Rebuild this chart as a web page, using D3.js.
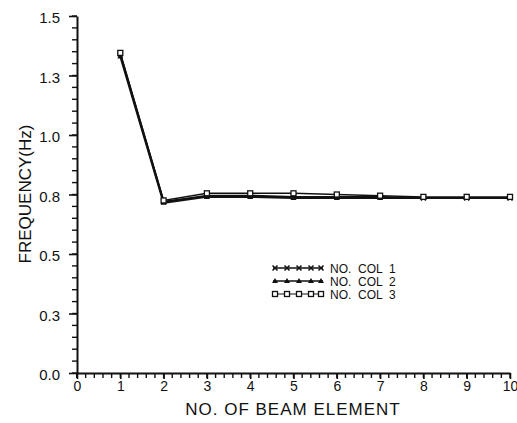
<!DOCTYPE html>
<html>
<head>
<meta charset="utf-8">
<script src="https://cdn.jsdelivr.net/npm/d3@7"></script>
<style>
  body { margin: 0; background: #fff; }
  text { font-family: "Liberation Sans", Arial, sans-serif; fill: #111; }
</style>
</head>
<body>
<div class="chart"></div>
<script>
// data
var elements = [1, 2, 3, 4, 5, 6, 7, 8, 9, 10];
var col1 = [1.34, 0.72, 0.745, 0.745, 0.74, 0.74, 0.74, 0.735, 0.735, 0.735];
var col2 = [1.33, 0.715, 0.74, 0.74, 0.735, 0.735, 0.735, 0.735, 0.735, 0.735];
var col3 = [1.345, 0.725, 0.755, 0.755, 0.755, 0.75, 0.745, 0.74, 0.74, 0.74];
var seriesNames = ["NO.  COL  1", "NO.  COL  2", "NO.  COL  3"];
var yTicks = [0, 0.25, 0.5, 0.75, 1.0, 1.25, 1.5];
var yTickLabels = ["0.0", "0.3", "0.5", "0.8", "1.0", "1.3", "1.5"];
var xTicks = [0, 1, 2, 3, 4, 5, 6, 7, 8, 9, 10];

var svgWidth = 517;
var svgHeight = 423;
var margin = {top: 16, right: 7, bottom: 50, left: 77};
var chartWidth = svgWidth - margin.left - margin.right;
var chartHeight = svgHeight - margin.top - margin.bottom;

var svg = d3.select(".chart")
  .append("svg")
  .attr("width", svgWidth)
  .attr("height", svgHeight);

var chart = svg.append("g")
  .attr("transform", `translate(${margin.left},${margin.top})`);

var xScale = d3.scaleLinear().domain([0, 10]).range([0, chartWidth]);
var yScale = d3.scaleLinear().domain([0, 1.5]).range([chartHeight, 0]);

// minor ticks
var xMinor = d3.range(0, 51).map(function(i) { return i * 0.2; });
var yMinor = d3.range(0, 31).map(function(i) { return i * 0.05; });

chart.append("g").selectAll("line")
  .data(xMinor)
  .enter()
  .append("line")
  .attr("x1", function(d) { return xScale(d); })
  .attr("x2", function(d) { return xScale(d); })
  .attr("y1", chartHeight)
  .attr("y2", chartHeight + 5)
  .attr("stroke", "#111")
  .attr("stroke-width", 1.4);

chart.append("g").selectAll("line")
  .data(yMinor)
  .enter()
  .append("line")
  .attr("x1", -5)
  .attr("x2", 0)
  .attr("y1", function(d) { return yScale(d); })
  .attr("y2", function(d) { return yScale(d); })
  .attr("stroke", "#111")
  .attr("stroke-width", 1.4);

// major axes
var xAxis = chart.append("g")
  .attr("transform", `translate(0,${chartHeight})`)
  .call(d3.axisBottom(xScale).tickValues(xTicks).tickSize(6).tickSizeOuter(0).tickPadding(2));
xAxis.selectAll("text").style("font-size", "14px");

var yAxis = chart.append("g")
  .call(d3.axisLeft(yScale).tickValues(yTicks).tickSize(8).tickSizeOuter(0).tickPadding(9)
    .tickFormat(function(d, i) { return yTickLabels[i]; }));
yAxis.selectAll("text").style("font-size", "15px").attr("dy", "0.45em");

chart.selectAll(".tick line, .domain").attr("stroke", "#111").attr("stroke-width", 1.6);
xAxis.select(".domain").attr("stroke-width", 2);
yAxis.select(".domain").attr("stroke-width", 2);

// small cross at origin
chart.append("line")
  .attr("x1", 0).attr("x2", 0)
  .attr("y1", chartHeight).attr("y2", chartHeight + 5)
  .attr("stroke", "#111").attr("stroke-width", 2);

// series lines
var allSeries = [col1, col2, col3];
var line = d3.line()
  .x(function(d, i) { return xScale(elements[i]); })
  .y(function(d) { return yScale(d); });

allSeries.forEach(function(s, k) {
  chart.append("path")
    .datum(s)
    .attr("fill", "none")
    .attr("stroke", "#111")
    .attr("stroke-width", k == 2 ? 1.4 : 2)
    .attr("d", line);
});

function drawMarker(g, kind, x, y) {
  if (kind == 0) {
    g.append("path").attr("d", `M${x-2.5},${y-2.5}L${x+2.5},${y+2.5}M${x-2.5},${y+2.5}L${x+2.5},${y-2.5}`)
      .attr("stroke", "#111").attr("stroke-width", 1.5);
  } else if (kind == 1) {
    g.append("path").attr("d", `M${x},${y-3}L${x+3},${y+2}L${x-3},${y+2}Z`).attr("fill", "#111");
  } else {
    g.append("rect").attr("x", x - 2.5).attr("y", y - 2.5).attr("width", 5).attr("height", 5)
      .attr("fill", "#fff").attr("stroke", "#111").attr("stroke-width", 1.3);
  }
}

allSeries.forEach(function(s, k) {
  s.forEach(function(v, i) {
    drawMarker(chart, k, xScale(elements[i]), yScale(v));
  });
});

// legend
var legend = svg.append("g").attr("transform", "translate(273,268)");
seriesNames.forEach(function(name, k) {
  var row = legend.append("g").attr("transform", `translate(0,${k * 13})`);
  row.append("line").attr("x1", 0).attr("x2", 50).attr("y1", 0).attr("y2", 0)
    .attr("stroke", "#111").attr("stroke-width", k == 2 ? 1.2 : 1.6);
  [2, 14, 26, 38, 48].forEach(function(px) { drawMarker(row, k, px, 0); });
  row.append("text").attr("x", 57).attr("y", 4.5)
    .style("font-size", "12px")
    .style("white-space", "pre")
    .text(name);
});

// axis titles
svg.append("text")
  .attr("transform", "rotate(-90)")
  .attr("x", -194)
  .attr("y", 31)
  .attr("text-anchor", "middle")
  .style("font-size", "17px")
  .text("FREQUENCY(Hz)");

svg.append("text")
  .attr("x", 293)
  .attr("y", 415)
  .attr("text-anchor", "middle")
  .style("font-size", "17px")
  .style("letter-spacing", "1px")
  .text("NO. OF BEAM ELEMENT");
</script>
</body>
</html>
